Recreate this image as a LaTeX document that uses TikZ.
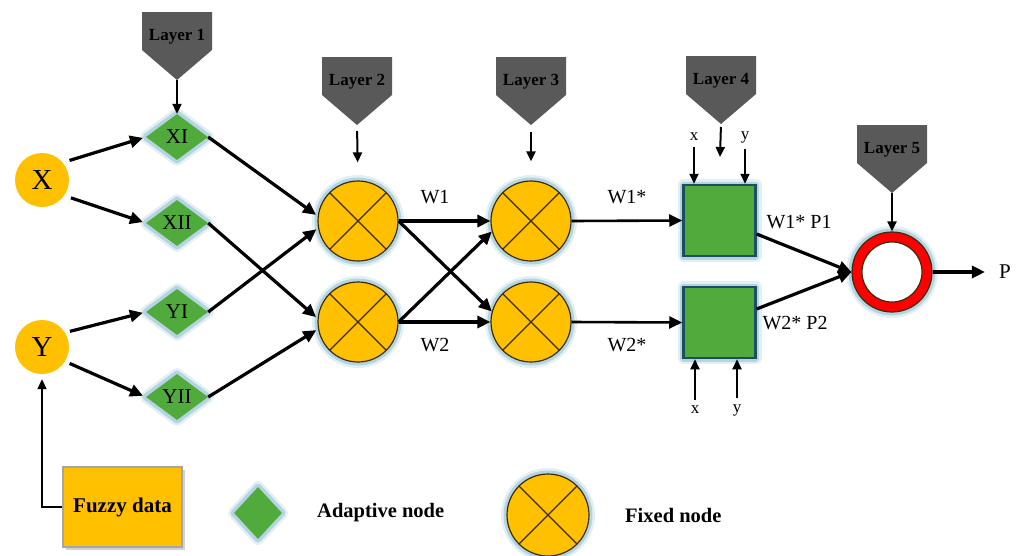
\documentclass[tikz,border=0pt]{standalone}
\usepackage{fontspec}
\setmainfont{Liberation Serif}
\usetikzlibrary{arrows.meta,shapes.geometric,shadows,calc}
\definecolor{ayellow}{RGB}{255,192,0}
\definecolor{agreen}{RGB}{80,170,60}
\definecolor{aglow}{RGB}{165,203,218}
\definecolor{agray}{RGB}{89,89,89}
\definecolor{ateal}{RGB}{28,78,98}
\definecolor{aoutline}{RGB}{60,45,10}
\definecolor{aborder}{RGB}{166,166,166}
\newcommand\fs[1]{\fontsize{#1}{#1}\selectfont}
\newcommand\layerbox[4]{%
  \fill[agray] (#2-35,#3) -- (#2+35,#3) -- (#2+35,#3+38) -- (#2,#3+68) -- (#2-35,#3+38) -- cycle;
  \node[laytxt] (#1) at (#2,#3+25) {#4};
  \coordinate (#1tip) at (#2,#3+68);}
\begin{document}
\begin{tikzpicture}[x=1pt,y=-1pt,
  glow/.style={preaction={draw=aglow,line width=12pt,opacity=0.3,line join=round},
               preaction={draw=aglow,line width=7pt,opacity=0.75,line join=round}},
  input/.style={circle,fill=ayellow,minimum size=54pt,inner sep=0pt,font=\fs{29}},
  adapt/.style={diamond,fill=agreen,glow,minimum width=62pt,minimum height=46pt,inner sep=0pt,font=\fs{21}},
  fixed/.style={circle,fill=ayellow,draw=aoutline,line width=1.2pt,glow,minimum size=80pt,inner sep=0pt,
    path picture={\draw[aoutline,line width=1.2pt] (path picture bounding box.north west) -- (path picture bounding box.south east)
      (path picture bounding box.north east) -- (path picture bounding box.south west);}},
  prod/.style={rectangle,fill=agreen,draw=ateal,line width=2.5pt,glow,minimum width=72pt,minimum height=71pt,inner sep=0pt},
  ring/.style={circle,fill=red,draw=aoutline,line width=1.2pt,glow,minimum size=80pt,inner sep=0pt},
  fuzzy/.style={rectangle,fill=ayellow,draw=aborder,line width=2pt,minimum width=119pt,minimum height=80pt,
    drop shadow={shadow xshift=3pt,shadow yshift=-3pt,fill=black!35},font=\fs{21}\bfseries},
  laytxt/.style={text=black,font=\fs{17}\bfseries,inner sep=0pt},
  lbl/.style={font=\fs{20},inner sep=1pt},
  xylbl/.style={font=\fs{17},inner sep=1pt},
  legtxt/.style={anchor=west,font=\fs{20.5}\bfseries,inner sep=0pt},
  arr/.style={-{Triangle[length=13pt,width=12pt]},line width=3.2pt},
  tarr/.style={-{Triangle[length=10pt,width=9pt]},line width=2pt}]
\useasboundingbox (0,0) rectangle (1021,555);

% layer markers
\layerbox{L1}{177}{12}{Layer 1}
\layerbox{L2}{357}{57}{Layer 2}
\layerbox{L3}{531}{57}{Layer 3}
\layerbox{L4}{721}{56}{Layer 4}
\layerbox{L5}{892}{125}{Layer 5}

% nodes
\node[input] (X) at (42,180) {X};
\node[input] (Y) at (42,347) {Y};
\node[adapt] (XI) at (177,137) {XI};
\node[adapt] (XII) at (177,223) {XII};
\node[adapt] (YI) at (177,312) {YI};
\node[adapt] (YII) at (177,397) {YII};
\node[fixed] (A1) at (358,221) {};
\node[fixed] (A2) at (358,322) {};
\node[fixed] (B1) at (531,221) {};
\node[fixed] (B2) at (531,322) {};
\node[prod] (S1) at (719.5,220.5) {};
\node[prod] (S2) at (719.5,322.5) {};
\node[ring] (O) at (892,272) {};
\fill[white,draw=aoutline,line width=1.2pt] (O.center) circle (30pt);
\node[lbl,font=\fs{21}] (P) at (1005,272) {P};

% labels
\node[lbl] (w1) at (435,197) {W1};
\node[lbl] (w2) at (435,345) {W2};
\node[lbl] (w1s) at (627,197) {W1*};
\node[lbl] (w2s) at (627,345) {W2*};
\node[lbl] (w1p) at (799,222) {W1* P1};
\node[lbl] (w2p) at (795,323) {W2* P2};
\node[xylbl] (xa) at (694,137) {x};
\node[xylbl] (ya) at (745,137) {y};
\node[xylbl] (xb) at (695,410) {x};
\node[xylbl] (yb) at (737,410) {y};
\coordinate (L4end) at (720,157);

% connectors
\draw[arr,shorten <=7pt,shorten >=3pt] (X.40) -- (XI.west);
\draw[arr,shorten <=7pt,shorten >=3pt] (X.-35) -- (XII.west);
\draw[arr,shorten <=5pt,shorten >=3pt] (Y.32) -- (YI.west);
\draw[arr,shorten <=5pt,shorten >=3pt] (Y.-32) -- (YII.west);
\draw[arr,shorten >=2pt] (XI.east) -- (A1.173);
\draw[arr,shorten >=2pt] (YI.east) -- (A1.190);
\draw[arr,shorten >=2pt] (XII.east) -- (A2.175);
\draw[arr,shorten >=2pt] (YII.east) -- (A2.190);
\draw[arr] (A1.east) -- (B1.west);
\draw[arr] (A2.east) -- (B2.west);
\draw[arr] (A1.east) -- (B2.165);
\draw[arr] (A2.east) -- (B1.195);
\draw[arr,line width=2.6pt] (B1.east) -- (S1.west);
\draw[arr,line width=2.6pt] (B2.east) -- (S2.west);
\draw[arr] (S1.-20) -- (O.west);
\draw[arr] (S2.20) -- (O.west);
\draw[arr,shorten >=13pt] (O.east) -- (P.west);

\draw[tarr] (L1tip) -- (XI.north);
\draw[tarr,shorten <=6pt,shorten >=18pt] (L2tip) -- (A1.north);
\draw[tarr,shorten <=7pt,shorten >=19pt] (L3tip) -- (B1.north);
\draw[tarr,shorten <=3pt] (L4tip) -- (L4end);
\draw[tarr] (L5tip) -- (O.north);
\draw[tarr,shorten <=5pt] (xa.south) -- (xa.south |- S1.north);
\draw[tarr,shorten <=5pt] (ya.south) -- (ya.south |- S1.north);
\draw[tarr,shorten <=5pt] (xb.north) -- (xb.north |- S2.south);
\draw[tarr,shorten <=5pt] (yb.north) -- (yb.north |- S2.south);

% legend
\node[fuzzy] (F) at (122.5,507) {Fuzzy data};
\draw[tarr,line width=2pt,shorten >=5pt] (F.west) -| (Y.south);
\node[adapt,minimum width=48pt,minimum height=52pt] (LD) at (258,513) {};
\node[legtxt] (LDt) at (317,513) {Adaptive node};
\node[fixed,minimum size=82pt] (LC) at (548,515) {};
\node[legtxt] (LCt) at (625,515) {Fixed node};
\end{tikzpicture}
\end{document}
